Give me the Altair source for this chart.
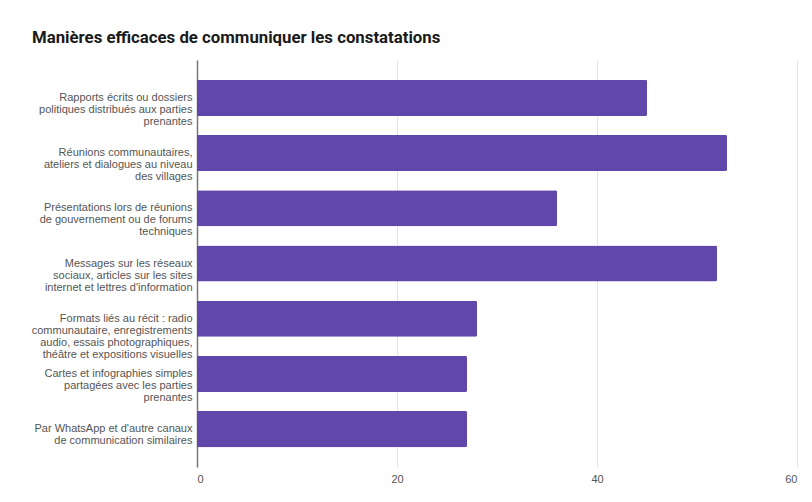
import altair as alt
import pandas as pd

categories = [
    "Rapports écrits ou dossiers|politiques distribués aux parties|prenantes",
    "Réunions communautaires,|ateliers et dialogues au niveau|des villages",
    "Présentations lors de réunions|de gouvernement ou de forums|techniques",
    "Messages sur les réseaux|sociaux, articles sur les sites|internet et lettres d'information",
    "Formats liés au récit : radio|communautaire, enregistrements|audio, essais photographiques,|théâtre et expositions visuelles",
    "Cartes et infographies simples|partagées avec les parties|prenantes",
    "Par WhatsApp et d'autre canaux|de communication similaires",
]
values = [45, 53, 36, 52, 28, 27, 27]
x_ticks = [0, 20, 40, 60]

df = pd.DataFrame({"cat": categories, "val": values})

chart = (
    alt.Chart(df)
    .mark_bar(color="#6147A9", cornerRadius=1.5)
    .encode(
        y=alt.Y(
            "cat:N",
            sort=categories,
            title=None,
            scale=alt.Scale(paddingInner=0.347, paddingOuter=0.36),
            axis=alt.Axis(
                labelExpr="split(datum.label, '|')",
                labelFont="Liberation Sans",
                labelFontSize=11,
                labelLineHeight=12,
                labelColor="#555555",
                labelPadding=5,
                ticks=False,
                domain=True,
                domainColor="#777777",
                domainWidth=1.5,
                grid=False,
                labelLimit=300,
            ),
        ),
        x=alt.X(
            "val:Q",
            title=None,
            scale=alt.Scale(domain=[0, 60], nice=False),
            axis=alt.Axis(
                values=x_ticks,
                labelFont="Liberation Sans",
                labelFontSize=11,
                labelColor="#555555",
                labelPadding=6,
                ticks=False,
                domain=False,
                grid=True,
                gridColor="#e3e3e3",
                gridWidth=1,
                gridOpacity=1,
            ),
        ),
    )
    .properties(
        width=600,
        height=407,
        autosize=alt.AutoSizeParams(type="none"),
        padding={"left": 189, "top": 52, "right": 7, "bottom": 27},
        title=alt.TitleParams(
            "Manières efficaces de communiquer les constatations",
            anchor="start",
            frame="group",
            dx=-165,
            offset=13,
            font="Roboto",
            fontSize=16.8,
            fontWeight="bold",
            color="#1a1a1a",
        ),
        background="white",
    )
    .configure_view(stroke=None)
)

chart.save("out.html", embed_options={"renderer": "svg", "actions": False})
